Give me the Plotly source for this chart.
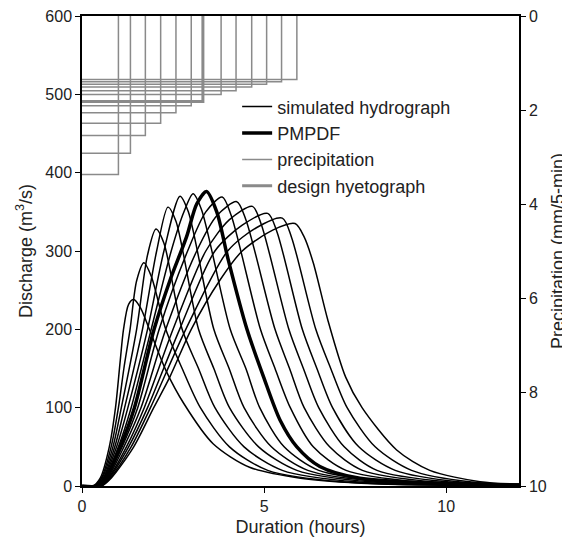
import plotly.graph_objects as go

# ---------------- data ----------------
x_ticks = [0, 5, 10]
q_ticks = [0, 100, 200, 300, 400, 500, 600]
p_ticks = [0, 2, 4, 6, 8, 10]

# simulated hydrographs (time in hours, discharge in m3/s)
sim_times = [
    [0, 0.3, 0.5, 0.75, 0.92, 1.05, 1.14, 1.28, 1.42, 1.6, 1.85, 2.3, 2.8, 3.6, 4.6, 6.0, 8.0, 12],
    [0, 0.32, 0.53, 0.8, 1.0, 1.15, 1.32, 1.5, 1.7, 1.9, 2.3, 2.75, 3.25, 4.05, 5.1, 7.2, 12],
    [0, 0.34, 0.55, 0.85, 1.08, 1.5, 1.8, 2.03, 2.25, 2.75, 3.2, 3.65, 4.45, 5.5, 7.6, 12],
    [0, 0.36, 0.58, 0.9, 1.17, 1.66, 2.05, 2.36, 2.58, 3.2, 3.62, 4.05, 4.85, 5.9, 8.0, 12],
    [0, 0.38, 0.6, 0.95, 1.26, 1.8, 2.25, 2.69, 2.92, 3.62, 4.04, 4.45, 5.2, 6.2, 8.3, 12],
    [0, 0.4, 0.63, 1.0, 1.35, 1.9, 2.45, 2.8, 3.05, 3.28, 4.07, 4.5, 4.88, 5.55, 6.5, 8.6, 12],
    [0, 0.44, 0.67, 1.1, 1.53, 2.12, 2.9, 3.4, 3.85, 4.1, 4.9, 5.3, 5.72, 6.35, 7.25, 9.3, 12],
    [0, 0.46, 0.7, 1.15, 1.62, 2.3, 3.15, 3.7, 4.25, 4.5, 5.3, 5.7, 6.1, 6.8, 7.7, 9.7, 12],
    [0, 0.48, 0.72, 1.22, 1.71, 2.5, 3.4, 4.05, 4.68, 4.93, 5.68, 6.08, 6.5, 7.2, 8.1, 10.1, 12],
    [0, 0.5, 0.74, 1.28, 1.8, 2.68, 3.65, 4.4, 5.1, 5.35, 6.05, 6.45, 6.88, 7.6, 8.6, 10.4, 12],
    [0, 0.52, 0.77, 1.35, 1.88, 2.85, 4.0, 4.8, 5.5, 5.75, 6.42, 6.83, 7.28, 8.05, 9.05, 10.7, 12],
    [0, 0.54, 0.8, 1.42, 1.97, 2.42, 3.0, 3.79, 4.4, 5.25, 5.85, 6.1, 6.35, 6.75, 7.24, 7.69, 8.64, 9.55, 10.93, 12],
]
sim_flows = [
    [0, 0, 10, 50, 100, 160, 200, 232, 238, 228, 200, 148, 105, 54, 24, 10, 3, 0.5],
    [0, 0, 10, 50, 100, 150, 200, 262, 285, 268, 200, 150, 100, 50, 20, 5, 0.6],
    [0, 0, 10, 50, 100, 200, 295, 328, 310, 200, 150, 100, 50, 20, 5, 0.7],
    [0, 0, 10, 50, 100, 200, 300, 356, 338, 200, 150, 100, 50, 20, 5, 0.8],
    [0, 0, 10, 50, 100, 200, 300, 370, 350, 200, 150, 100, 50, 20, 5, 0.9],
    [0, 0, 10, 50, 100, 200, 300, 350, 373, 353, 200, 150, 100, 50, 20, 5, 1.0],
    [0, 0, 10, 50, 100, 200, 300, 350, 369, 345, 200, 150, 100, 50, 20, 5, 1.2],
    [0, 0, 10, 50, 100, 200, 300, 345, 363, 340, 200, 150, 100, 50, 20, 5, 1.4],
    [0, 0, 10, 50, 100, 200, 300, 340, 357, 333, 200, 150, 100, 50, 20, 5, 1.6],
    [0, 0, 10, 50, 100, 200, 300, 333, 348, 325, 200, 150, 100, 50, 20, 5, 1.9],
    [0, 0, 10, 50, 100, 200, 300, 330, 342, 318, 200, 150, 100, 50, 20, 5, 2.2],
    [0, 0, 10, 50, 100, 140, 200, 263, 300, 327, 335, 318, 285, 212, 139, 100, 46, 20, 5.5, 2.5],
]

# PMPDF hydrograph
pmpdf_time = [0, 0.42, 0.65, 1.05, 1.44, 1.98, 2.42, 2.87, 3.15, 3.42, 3.7, 4.02, 4.53, 4.98, 5.44, 5.9, 6.53, 7.63, 12]
pmpdf_flow = [0, 0, 10, 50, 100, 200, 263, 318, 360, 376, 350, 288, 200, 140, 84, 50, 25, 10, 1.0]

# precipitation blocks: duration (h) and depth (mm/5-min)
precip_duration = [1.0, 1.33, 1.74, 2.16, 2.58, 3.0, 3.82, 4.23, 4.66, 5.07, 5.48, 5.9]
precip_depth = [3.37, 2.92, 2.54, 2.28, 2.06, 1.91, 1.67, 1.59, 1.51, 1.45, 1.40, 1.35]

# design hyetograph
design_duration = 3.32
design_depth = 1.82

# ---------------- figure ----------------
FONT = "Liberation Sans, Arial, Helvetica, sans-serif"
TXT = "#222222"
GRAY = "#8a8a8a"

fig = go.Figure()

# precipitation step outlines on the secondary (reversed) axis
px, py = [], []
for d, p in zip(precip_duration, precip_depth):
    px += [0, d, d, None]
    py += [p, p, 0, None]
fig.add_trace(go.Scatter(x=px, y=py, yaxis="y2", mode="lines",
                         line=dict(color=GRAY, width=1.5),
                         name="precipitation", legendrank=3))
fig.add_trace(go.Scatter(x=[0, design_duration, design_duration],
                         y=[design_depth, design_depth, 0], yaxis="y2", mode="lines",
                         line=dict(color=GRAY, width=3),
                         name="design hyetograph", legendrank=4))

for i, (t, q) in enumerate(zip(sim_times, sim_flows)):
    fig.add_trace(go.Scatter(x=t, y=q, mode="lines",
                             line=dict(color="black", width=1.5, shape="spline", smoothing=0.8),
                             name="simulated hydrograph", legendgroup="sim",
                             showlegend=(i == 0), legendrank=1))

fig.add_trace(go.Scatter(x=pmpdf_time, y=pmpdf_flow, mode="lines",
                         line=dict(color="black", width=3.5, shape="spline", smoothing=0.8),
                         name="PMPDF", legendrank=2))

# the page body adds an 8 px offset, so the figure is sized 8 px smaller
fig.update_layout(
    width=562, height=532,
    margin=dict(l=74, r=51, t=8, b=54),
    plot_bgcolor="white", paper_bgcolor="white",
    font=dict(family=FONT, size=16, color=TXT),
    showlegend=True,
    legend=dict(x=0.355, y=0.846, xanchor="left", yanchor="top",
                bgcolor="rgba(0,0,0,0)", font=dict(size=18, color=TXT),
                tracegroupgap=0, itemwidth=30),
    xaxis=dict(range=[0, 12], tickvals=x_ticks, ticks="outside", ticklen=5,
               tickcolor="black", showline=True, linecolor="black", linewidth=1.5,
               mirror=True, showgrid=False, zeroline=False, automargin=False,
               ticklabeloverflow="allow",
               title=dict(text="Duration (hours)", font=dict(size=18), standoff=6)),
    yaxis=dict(range=[0, 600], tickvals=q_ticks, ticks="outside", ticklen=5,
               tickcolor="black", showline=True, linecolor="black", linewidth=1.5,
               showgrid=False, zeroline=False, automargin=False,
               ticklabeloverflow="allow",
               title=dict(text="Discharge (m<sup>3</sup>/s)", font=dict(size=18), standoff=8)),
    yaxis2=dict(range=[10, 0], tickvals=p_ticks, overlaying="y", side="right",
                ticks="outside", ticklen=5, tickcolor="black", showline=True,
                linecolor="black", linewidth=1.5, showgrid=False, zeroline=False,
                automargin=False, ticklabeloverflow="allow",
                title=dict(text="Precipitation (mm/5-min)", font=dict(size=18), standoff=6)),
)

fig.write_html("out.html")
